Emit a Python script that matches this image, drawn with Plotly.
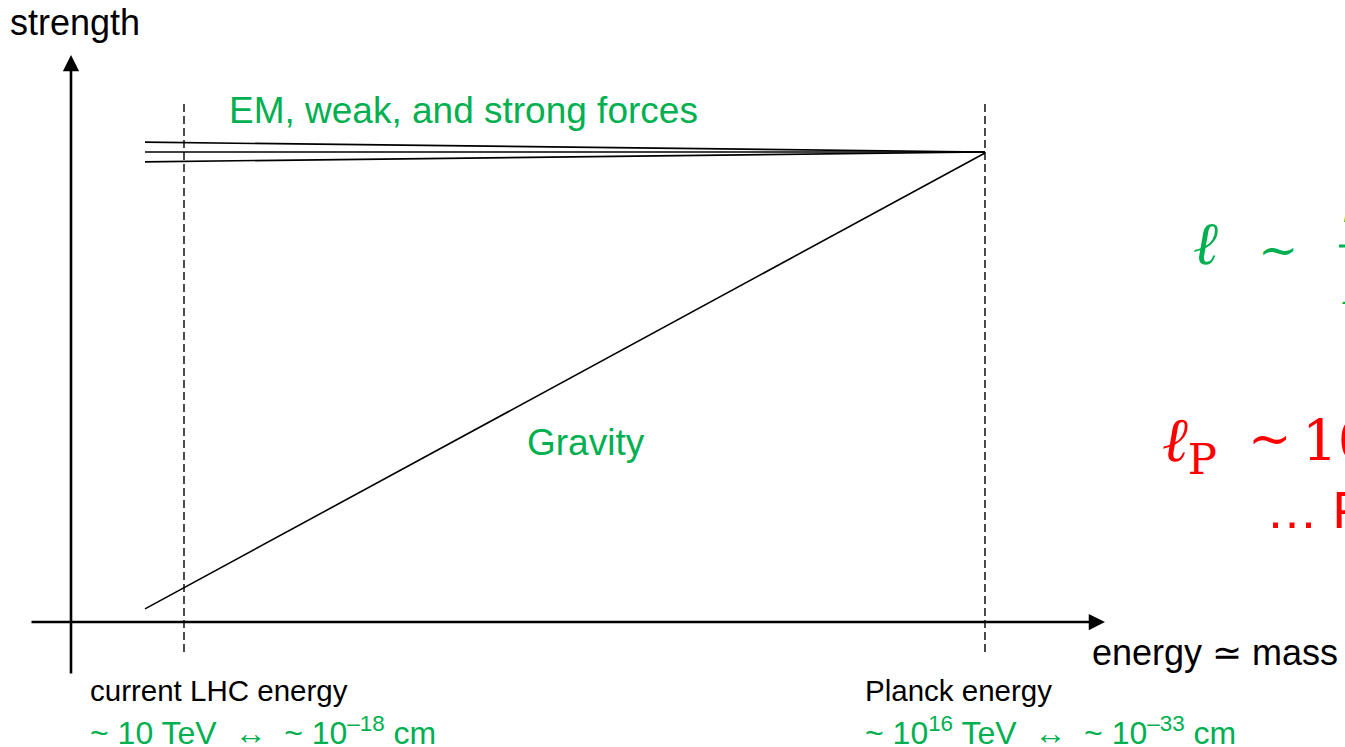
import plotly.graph_objects as go

# ---- data (x: log10(E / TeV), y: relative coupling strength) ----
force_x = [0.27, 16.0]
em_strength = [1.021, 1.0]
weak_strength = [1.0, 1.0]
strong_strength = [0.979, 1.0]
gravity_x = [0.27, 16.0]
gravity_strength = [0.028, 0.998]
marker_energies = [1.0, 16.0]          # LHC, Planck (log10 TeV)
marker_labels = ["current LHC energy", "Planck energy"]
marker_scales = ["~ 10 TeV  \u2194  ~ 10<sup>\u201318</sup> cm",
                 "~ 10<sup>16</sup> TeV  \u2194  ~ 10<sup>\u201333</sup> cm"]

W, H = 1345, 747
GREEN = "#00B050"
RED = "#FF0000"
SANS = "Arial, Liberation Sans, sans-serif"
SERIF = "DejaVu Serif, serif"

# axis ranges chosen so that the picture frame matches the slide
XR = [-2.4457, 22.742]
YR = [-0.26596, 1.3234]

fig = go.Figure()

for ys in (em_strength, weak_strength, strong_strength):
    fig.add_trace(go.Scatter(x=force_x, y=ys, mode="lines",
                             line=dict(color="black", width=1.6),
                             showlegend=False, hoverinfo="skip"))
fig.add_trace(go.Scatter(x=gravity_x, y=gravity_strength, mode="lines",
                         line=dict(color="black", width=1.6),
                         showlegend=False, hoverinfo="skip"))

# dashed verticals at the marker energies
for e in marker_energies:
    fig.add_trace(go.Scatter(x=[e, e], y=[-0.0638, 1.1106], mode="lines",
                             line=dict(color="black", width=1.4, dash="8px,4px"),
                             showlegend=False, hoverinfo="skip"))

# axes with arrow heads
fig.add_annotation(x=-1.116, y=1.2064, ax=-1.116, ay=-0.1128,
                   xref="x", yref="y", axref="x", ayref="y", text="",
                   showarrow=True, arrowhead=2, arrowsize=1.25, arrowwidth=2.6,
                   arrowcolor="black", standoff=0)
fig.add_annotation(x=18.247, y=0.0, ax=-1.884, ay=0.0,
                   xref="x", yref="y", axref="x", ayref="y", text="",
                   showarrow=True, arrowhead=2, arrowsize=1.25, arrowwidth=2.6,
                   arrowcolor="black", standoff=0)


def txt(s, px, py, size, color="black", family=SANS, anchor="left"):
    # px, py: pixel position of the text's left edge / vertical centre
    fig.add_annotation(text=s, x=(px - 2) / W, y=1 - py / H,
                       xref="paper", yref="paper",
                       xanchor=anchor, yanchor="middle", showarrow=False,
                       font=dict(family=family, size=size, color=color))


txt("strength", 10, 22, 36)
txt("EM, weak, and strong forces", 229, 110, 37, GREEN)
txt("Gravity", 527, 442, 37, GREEN)
txt("energy \u2243 mass", 1092, 652, 36)

lefts = [90, 865]
for lbl, sc, lx in zip(marker_labels, marker_scales, lefts):
    txt(lbl, lx, 690, 29.5)
    txt(sc, lx, 731, 32, GREEN)

# right-hand formulas (cut by the slide edge)
txt("<i>\u2113</i>", 1193, 243, 60, GREEN, SERIF)
txt("~", 1258, 250, 48, GREEN, SERIF)
txt("<i>\u0127</i>", 1342, 207, 42, GREEN, SERIF)
txt("<i>E</i>", 1342, 290, 42, GREEN, SERIF)
fig.add_shape(type="line", xref="paper", yref="paper",
              x0=1339 / W, x1=1.1, y0=1 - 246 / H, y1=1 - 246 / H,
              line=dict(color=GREEN, width=3))

txt("<i>\u2113</i><sub>P</sub>", 1162, 443, 62, RED, SERIF)
txt("~", 1248, 438, 52, RED, SERIF)
txt("10", 1302, 440, 56, RED, SERIF)
txt("\u2026 Planck length", 1266, 510, 52, RED)

fig.update_xaxes(range=XR, visible=False, fixedrange=True)
fig.update_yaxes(range=YR, visible=False, fixedrange=True)
fig.update_layout(width=W, height=H, margin=dict(l=0, r=0, t=0, b=0),
                  plot_bgcolor="white", paper_bgcolor="white", showlegend=False)

fig.write_html("out.html",
               config={"displayModeBar": False},
               post_script="document.body.style.margin='0';"
                           "document.body.style.overflow='hidden';")
